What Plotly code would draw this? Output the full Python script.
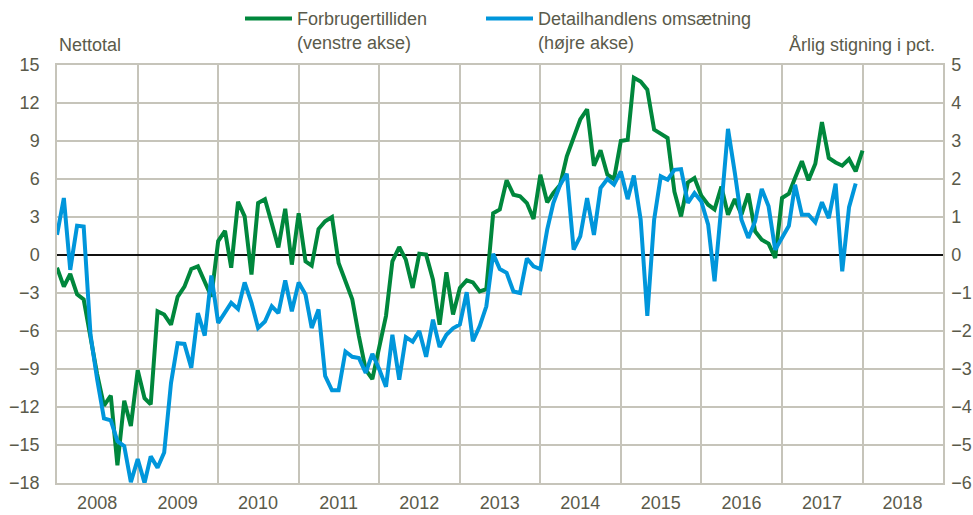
import pandas as pd
import plotly.graph_objects as go

# ---- data ----
months = pd.date_range("2008-01-01", periods=121, freq="MS")

forbrugertillid = [
    -1.0, -2.5, -1.5, -3.1, -3.5, -6.7, -9.4, -11.9, -11.1, -16.6, -11.5, -13.5,
    -9.1, -11.3, -11.8, -4.45, -4.7, -5.5, -3.3, -2.5, -1.1, -0.9, -2.2, -3.3,
    1.1, 1.9, -1.0, 4.2, 3.05, -1.55, 4.1, 4.4, 2.5, 0.6, 3.65, -0.76,
    3.3, -0.5, -0.84, 2.05, 2.66, 3.0, -0.63, -2.1, -3.5, -6.4, -9.05, -9.8,
    -7.2, -4.8, -0.5, 0.63, -0.37, -2.6, 0.1, 0.03, -1.95, -5.5, -1.37, -4.7,
    -2.6, -2.0, -2.16, -2.87, -2.7, 3.3, 3.6, 5.9, 4.76, 4.63, 4.1, 2.84,
    6.34, 4.16, 4.9, 5.55, 7.8, 9.37, 10.7, 11.5, 7.05, 8.26, 6.34, 6.0,
    9.0, 9.1, 14.0, 13.7, 13.05, 9.9, 9.58, 9.24, 5.0, 3.05, 5.73, 6.08,
    4.68, 3.97, 3.6, 5.4, 3.18, 4.42, 3.18, 4.84, 1.87, 1.21, 0.9, -0.24,
    4.5, 4.84, 6.08, 7.4, 5.9, 7.2, 10.5, 7.66, 7.3, 7.05, 7.58, 6.6,
    8.24,
]

detailomsaetning = [
    0.53, 1.5, -0.39, 0.77, 0.75, -2.1, -3.27, -4.3, -4.35, -4.9, -5.03, -5.98,
    -5.37, -6.0, -5.3, -5.6, -5.2, -3.37, -2.32, -2.34, -2.97, -1.53, -2.12, -0.54,
    -1.79, -1.53, -1.26, -1.42, -0.72, -1.26, -1.92, -1.75, -1.35, -1.53, -0.67, -1.48,
    -0.72, -1.04, -1.92, -1.43, -3.18, -3.56, -3.56, -2.54, -2.68, -2.71, -3.1, -2.6,
    -3.0, -3.47, -2.1, -3.28, -2.16, -2.28, -2.0, -2.68, -1.70, -2.42, -2.1, -1.93,
    -1.83, -0.98, -2.27, -1.87, -1.35, 0.03, -0.37, -0.47, -0.96, -1.0, -0.09, -0.3,
    -0.37, 0.67, 1.37, 1.85, 2.14, 0.14, 0.49, 1.5, 0.53, 1.76, 2.0, 1.85,
    2.2, 1.47, 2.09, 0.93, -1.6, 0.93, 2.07, 1.98, 2.24, 2.26, 1.37, 1.63,
    1.41, 0.8, -0.69, 1.3, 3.32, 2.16, 0.93, 0.45, 0.89, 1.74, 1.28, 0.14,
    0.45, 0.77, 1.85, 1.06, 1.06, 0.86, 1.39, 0.97, 1.88, -0.43, 1.26, 1.88,
]

year_labels = ["2008", "2009", "2010", "2011", "2012", "2013", "2014",
               "2015", "2016", "2017", "2018"]
left_ticks = [15, 12, 9, 6, 3, 0, -3, -6, -9, -12, -15, -18]
right_ticks = [5, 4, 3, 2, 1, 0, -1, -2, -3, -4, -5, -6]

# ---- style ----
GREEN = "#00873C"
BLUE = "#0096DB"
GRID = "#C6C4BA"
TXT = "#5A5A4A"
FONT = "Liberation Sans, Arial, sans-serif"

year_starts = pd.date_range("2008-01-01", periods=12, freq="YS")
label_pos = [pd.Timestamp(f"{y}-07-01") for y in year_labels]

fig = go.Figure()
fig.add_trace(go.Scatter(
    x=months, y=forbrugertillid, mode="lines",
    name="Forbrugertilliden<br>(venstre akse)",
    line=dict(color=GREEN, width=4), yaxis="y", legend="legend",
))
fig.add_trace(go.Scatter(
    x=months[:len(detailomsaetning)], y=detailomsaetning, mode="lines",
    name="Detailhandlens omsætning<br>(højre akse)",
    line=dict(color=BLUE, width=4), yaxis="y2", legend="legend2",
))

legend_common = dict(
    orientation="h", yanchor="top", valign="top", itemwidth=47,
    font=dict(size=18, color=TXT), bgcolor="rgba(0,0,0,0)",
)

fig.update_layout(
    width=973, height=515,
    margin=dict(l=57, r=30, t=65, b=32, autoexpand=False),
    paper_bgcolor="white", plot_bgcolor="white",
    font=dict(family=FONT, size=18, color=TXT),
    showlegend=True,
    legend=dict(x=(240 - 57) / 886, y=1.155, xanchor="left", **legend_common),
    legend2=dict(x=(481 - 57) / 886, y=1.155, xanchor="left", **legend_common),
    xaxis=dict(
        type="date", automargin=False,
        range=[year_starts[0], year_starts[-1]],
        tickmode="array", tickvals=label_pos, ticktext=year_labels,
        showgrid=False, ticks="outside", ticklen=3, tickcolor="rgba(0,0,0,0)",
        minor=dict(tickvals=list(year_starts), showgrid=True,
                   gridcolor=GRID, gridwidth=1.5, ticks=""),
        showline=True, linecolor=GRID, linewidth=1.5, mirror=True,
        tickfont=dict(size=18, color=TXT),
    ),
    yaxis=dict(
        automargin=False,
        range=[-18, 15], tickmode="array", tickvals=left_ticks,
        showgrid=True, gridcolor=GRID, gridwidth=1.5,
        zeroline=True, zerolinecolor="#111111", zerolinewidth=2,
        showline=True, linecolor=GRID, linewidth=1.5,
        ticks="outside", ticklen=12, tickcolor="rgba(0,0,0,0)",
        tickfont=dict(size=18, color=TXT),
    ),
    yaxis2=dict(
        automargin=False,
        range=[-6, 5], tickmode="array", tickvals=right_ticks,
        overlaying="y", side="right", showgrid=False, zeroline=False,
        showline=True, linecolor=GRID, linewidth=1.5,
        ticks="outside", ticklen=3, tickcolor="rgba(0,0,0,0)",
        tickfont=dict(size=18, color=TXT),
    ),
    annotations=[
        dict(text="Nettotal", xref="paper", yref="paper", x=0, y=1.048,
             xanchor="left", yanchor="middle", showarrow=False,
             font=dict(size=18, color=TXT)),
        dict(text="Årlig stigning i pct.", xref="paper", yref="paper",
             x=0.993, y=1.048, xanchor="right", yanchor="middle",
             showarrow=False, font=dict(size=18, color=TXT)),
    ],
)

fig.write_html("out.html")
